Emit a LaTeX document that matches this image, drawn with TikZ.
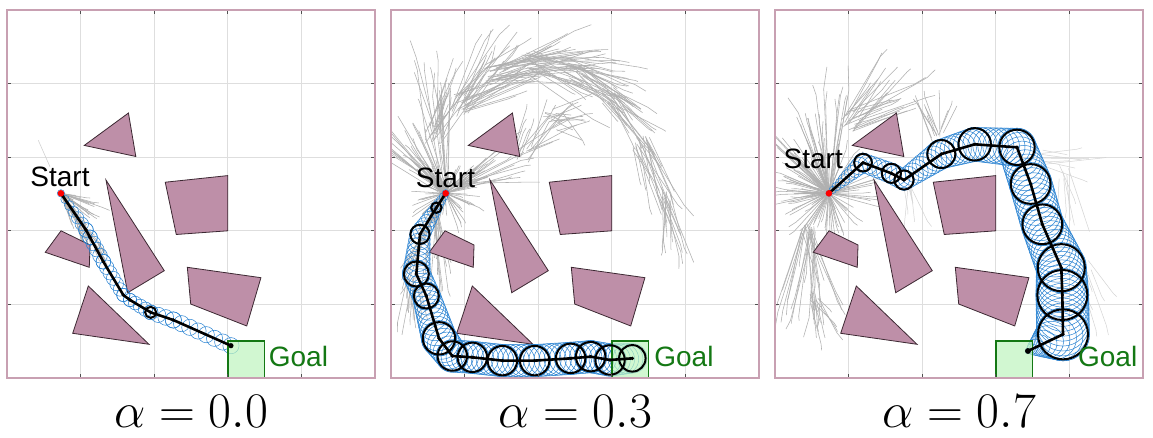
\documentclass[tikz,border=0pt]{standalone}
\usepackage{fontspec}
\newfontfamily\arial{Liberation Sans}
\definecolor{framec}{RGB}{200,160,178}
\definecolor{gridc}{RGB}{222,222,222}
\definecolor{tickc}{RGB}{80,80,80}
\definecolor{obsc}{RGB}{190,143,168}
\definecolor{obsedge}{RGB}{60,40,50}
\definecolor{treec}{RGB}{176,176,176}
\definecolor{sweepb}{RGB}{40,130,210}
\definecolor{goalc}{RGB}{20,120,20}
\definecolor{goalfill}{RGB}{190,245,190}
\tikzset{
 panelframe/.style={draw=framec, line width=0.8pt},
 gridl/.style={draw=gridc, line width=0.4pt},
 tickl/.style={draw=tickc, line width=0.6pt},
 obst/.style={fill=obsc, draw=obsedge, line width=0.4pt},
 tree/.style={draw=treec, line width=0.28pt},
 sweepc/.style={draw=sweepb, line width=0.25pt},
 robot/.style={draw=black, line width=1pt},
 pathl/.style={draw=black, line width=1.3pt, line join=round},
 wpt/.style={fill=black},
 startpt/.style={fill=red},
 goalbox/.style={fill=goalfill, fill opacity=0.7, draw=goalc, line width=0.8pt},
 startlbl/.style={font=\arial\fontsize{14}{16}\selectfont, inner sep=0pt, text=black},
 goallbl/.style={font=\arial\fontsize{14}{16}\selectfont, inner sep=0pt, text=goalc},
 alphalbl/.style={font=\fontsize{24}{28}\selectfont, inner sep=0pt, anchor=base},
}
% random fan: x y spread amin amax lmin lmax n
\newcommand\rfan[8]{%
  \foreach \k in {1,...,#8}{%
    \pgfmathsetmacro\rbx{#1+(rnd-0.5)*2*(#3)}%
    \pgfmathsetmacro\rby{#2+(rnd-0.5)*2*(#3)}%
    \pgfmathsetmacro\rfa{(#4)+rnd*((#5)-(#4))}%
    \pgfmathsetmacro\rfl{(#6)+rnd*((#7)-(#6))}%
    \pgfmathsetmacro\rfb{\rfa+(rnd-0.5)*30}%
    \pgfmathsetmacro\rflb{rnd*0.25*\rfl}%
    \draw[tree] (\rbx,\rby) -- ++(\rfa:\rfl) -- ++(\rfb:\rflb);
  }}
% sweep: x1 y1 r1 x2 y2 r2 n
\newcommand\sweepseg[7]{%
  \foreach \i in {0,...,#7}{%
    \pgfmathsetmacro\tq{\i/(#7)}%
    \draw[sweepc] ({#1+((#4)-(#1))*\tq},{#2+((#5)-(#2))*\tq}) circle ({#3+((#6)-(#3))*\tq});
  }}
\newcommand\panelbase{%
  \foreach \g in {1,...,4}{
    \draw[gridl] (\g,0) -- (\g,5);
    \draw[gridl] (0,\g) -- (5,\g);
  }
}
\newcommand\panelframe{%
  \foreach \g in {1,...,4}{
    \draw[tickl] (\g,0) -- (\g,0.05);
    \draw[tickl] (\g,5) -- (\g,4.95);
    \draw[tickl] (0,\g) -- (0.05,\g);
    \draw[tickl] (5,\g) -- (4.95,\g);
  }
  \draw[panelframe] (0,0) rectangle (5,5);
}
\newcommand\obstacles{%
  \draw[obst] (1.05,3.16) -- (1.65,3.60) -- (1.75,3.01) -- cycle;
  \draw[obst] (2.15,2.66) -- (3.0,2.75) -- (3.0,2.00) -- (2.30,1.95) -- cycle;
  \draw[obst] (1.345,2.69) -- (2.137,1.458) -- (1.64,1.159) -- cycle;
  \draw[obst] (0.52,1.708) -- (0.734,2.00) -- (1.128,1.807) -- (1.118,1.504) -- cycle;
  \draw[obst] (2.45,1.504) -- (3.45,1.363) -- (3.257,0.707) -- (2.496,1.005) -- cycle;
  \draw[obst] (1.105,1.25) -- (1.929,0.458) -- (0.893,0.607) -- cycle;
}
\begin{document}
\begin{tikzpicture}[x=0.5pt,y=-0.5pt]
\useasboundingbox[fill=white] (0,0) rectangle (1153,438);

% ================= Panel 1 =================
\begin{scope}[shift={(7,378)}, x=36.8pt, y=36.8pt]
  \pgfmathsetseed{11}
  \panelbase
  \begin{scope}
    \clip (0,0) rectangle (5,5);
    \rfan{0.733}{2.509}{0}{-72}{-8}{0.15}{0.6}{45}
    \rfan{1.0}{2.1}{0.05}{-75}{-45}{0.1}{0.45}{20}
    \rfan{1.2}{1.8}{0.05}{-70}{-50}{0.1}{0.35}{10}
    \draw[tree, draw=treec!60] (0.425,3.23) -- (0.584,2.87);
  \end{scope}
  \obstacles
  \coordinate (a0) at (0.733,2.509);
  \coordinate (a1) at (1.073,2.011);
  \coordinate (a2) at (1.128,1.911);
  \coordinate (a3) at (1.309,1.580);
  \coordinate (a4) at (1.580,1.128);
  \coordinate (a5) at (1.671,1.060);
  \coordinate (a6) at (1.952,0.892);
  \coordinate (a7) at (2.260,0.788);
  \coordinate (a8) at (3.043,0.439);
  \sweepseg{0.733}{2.509}{0.05}{1.073}{2.011}{0.1}{6}
  \sweepseg{1.073}{2.011}{0.1}{1.128}{1.911}{0.1}{1}
  \sweepseg{1.128}{1.911}{0.1}{1.309}{1.580}{0.1}{4}
  \sweepseg{1.309}{1.580}{0.1}{1.580}{1.128}{0.09}{6}
  \sweepseg{1.580}{1.128}{0.09}{1.671}{1.060}{0.09}{1}
  \sweepseg{1.671}{1.060}{0.09}{1.952}{0.892}{0.1}{4}
  \sweepseg{1.952}{0.892}{0.1}{2.260}{0.788}{0.11}{3}
  \sweepseg{2.260}{0.788}{0.11}{3.043}{0.439}{0.11}{7}
  \draw[goalbox] (3,0) rectangle (3.5,0.5);
  \draw[pathl] (a0) -- (a1) -- (a2) -- (a3) -- (a4) -- (a5) -- (a6) -- (a7) -- (a8);
  \draw[robot] (a6) circle (0.075);
  \foreach \p in {a1,a2,a3,a4,a5,a6,a7} \fill[wpt] (\p) circle (0.025);
  \fill[wpt] (a8) circle (0.035);
  \fill[startpt] (a0) circle (0.045);
  \panelframe
  \node[startlbl] (s1) at (0.72,2.73) {Start};
  \node[goallbl] (g1) at (3.96,0.29) {Goal};
\end{scope}

% ================= Panel 2 =================
\begin{scope}[shift={(391,378)}, x=36.8pt, y=36.8pt]
  \pgfmathsetseed{23}
  \panelbase
  \begin{scope}
    \clip (0,0) rectangle (5,5);
    \rfan{0.74}{2.51}{0}{0}{360}{0.15}{0.5}{70}
    \rfan{0.74}{2.51}{0.05}{85}{150}{0.5}{1.4}{35}
    \rfan{0.6}{3.3}{0.15}{50}{110}{0.4}{1.0}{25}
    \rfan{0.95}{3.7}{0.15}{15}{70}{0.5}{1.2}{30}
    \rfan{1.4}{4.1}{0.15}{-5}{30}{0.5}{1.3}{30}
    \rfan{1.9}{4.3}{0.15}{-35}{10}{0.5}{1.2}{25}
    \rfan{2.5}{4.2}{0.15}{-50}{-5}{0.4}{1.0}{25}
    \rfan{3.0}{3.8}{0.15}{-70}{-25}{0.3}{0.9}{20}
    \rfan{3.4}{3.2}{0.12}{-85}{-50}{0.4}{1.0}{20}
    \rfan{3.7}{2.5}{0.1}{-95}{-65}{0.3}{0.9}{15}
    \rfan{0.9}{2.6}{0.05}{0}{45}{0.3}{1.0}{20}
    \rfan{1.8}{3.0}{0.15}{20}{80}{0.3}{0.8}{15}
    \rfan{2.2}{3.5}{0.15}{-60}{40}{0.2}{0.6}{15}
    \rfan{0.6}{2.3}{0.05}{235}{285}{0.3}{1.2}{25}
    \rfan{0.3}{1.3}{0.1}{255}{290}{0.2}{0.7}{15}
  \end{scope}
  \obstacles
  \coordinate (b0) at (0.743,2.509);
  \coordinate (b1) at (0.616,2.314);
  \coordinate (b2) at (0.394,1.952);
  \coordinate (b3) at (0.344,1.413);
  \coordinate (b4) at (0.480,1.114);
  \coordinate (b5) at (0.652,0.539);
  \coordinate (b6) at (0.833,0.299);
  \coordinate (b7) at (1.105,0.281);
  \coordinate (b8) at (1.513,0.236);
  \coordinate (b9) at (1.952,0.236);
  \coordinate (b10) at (2.441,0.267);
  \coordinate (b11) at (2.713,0.290);
  \coordinate (b12) at (2.976,0.245);
  \coordinate (b13) at (3.279,0.267);
  \sweepseg{0.743}{2.509}{0.05}{0.616}{2.314}{0.08}{4}
  \sweepseg{0.616}{2.314}{0.08}{0.394}{1.952}{0.14}{7}
  \sweepseg{0.394}{1.952}{0.14}{0.344}{1.413}{0.19}{8}
  \sweepseg{0.344}{1.413}{0.19}{0.480}{1.114}{0.19}{5}
  \sweepseg{0.480}{1.114}{0.19}{0.652}{0.539}{0.24}{9}
  \sweepseg{0.652}{0.539}{0.24}{0.833}{0.299}{0.22}{5}
  \sweepseg{0.833}{0.299}{0.22}{1.105}{0.281}{0.22}{4}
  \sweepseg{1.105}{0.281}{0.22}{1.513}{0.236}{0.22}{6}
  \sweepseg{1.513}{0.236}{0.22}{1.952}{0.236}{0.22}{6}
  \sweepseg{1.952}{0.236}{0.22}{2.441}{0.267}{0.22}{7}
  \sweepseg{2.441}{0.267}{0.22}{2.713}{0.290}{0.22}{4}
  \sweepseg{2.713}{0.290}{0.22}{2.976}{0.245}{0.22}{4}
  \sweepseg{2.976}{0.245}{0.22}{3.279}{0.267}{0.2}{5}
  \draw[goalbox] (3,0) rectangle (3.5,0.5);
  \draw[pathl] (b0) -- (b1) -- (b2) -- (b3) -- (b4) -- (b5) -- (b6) -- (b7) -- (b8) -- (b9) -- (b10) -- (b11) -- (b12) -- (b13);
  \draw[robot] (b1) circle (0.07);
  \draw[robot] (b2) circle (0.13);
  \draw[robot] (b3) circle (0.17);
  \draw[robot] (b4) circle (0.17);
  \draw[robot] (b5) circle (0.22);
  \draw[robot] (b6) circle (0.2);
  \draw[robot] (b7) circle (0.2);
  \draw[robot] (b8) circle (0.2);
  \draw[robot] (b9) circle (0.2);
  \draw[robot] (b10) circle (0.2);
  \draw[robot] (b11) circle (0.2);
  \draw[robot] (b12) circle (0.2);
  \draw[robot] (b13) circle (0.18);
  \foreach \p in {b1,b2,b3,b4,b5,b6,b7,b8,b9,b10,b11,b12,b13} \fill[wpt] (\p) circle (0.025);
  \fill[startpt] (b0) circle (0.045);
  \panelframe
  \node[startlbl] (s2) at (0.74,2.72) {Start};
  \node[goallbl] (g2) at (3.98,0.29) {Goal};
\end{scope}

% ================= Panel 3 =================
\begin{scope}[shift={(775,378)}, x=36.8pt, y=36.8pt]
  \pgfmathsetseed{37}
  \panelbase
  \begin{scope}
    \clip (0,0) rectangle (5,5);
    \rfan{0.73}{2.51}{0}{0}{360}{0.2}{0.75}{90}
    \rfan{0.73}{2.51}{0.03}{75}{140}{0.6}{1.45}{30}
    \rfan{0.73}{2.51}{0.03}{150}{210}{0.4}{0.75}{15}
    \rfan{1.05}{3.5}{0.15}{15}{70}{0.4}{1.1}{25}
    \rfan{2.2}{3.3}{0.1}{60}{130}{0.2}{0.6}{12}
    \rfan{0.45}{2.0}{0.1}{250}{295}{0.4}{1.3}{25}
    \rfan{0.55}{1.1}{0.1}{260}{320}{0.2}{0.6}{12}
  \end{scope}
  \begin{scope}[treec/.style={}]
    \clip (0,0) rectangle (5,5);
    \tikzset{tree/.style={draw=treec!55, line width=0.25pt}}
    \rfan{3.6}{3.0}{0.1}{-20}{10}{0.3}{0.9}{8}
    \rfan{3.9}{2.8}{0.1}{-100}{-60}{0.3}{0.8}{6}
    \rfan{4.2}{1.5}{0.1}{-80}{-50}{0.3}{1.0}{6}
    \rfan{1.8}{2.6}{0.05}{-100}{-60}{0.2}{0.6}{6}
  \end{scope}
  \obstacles
  \coordinate (c0) at (0.733,2.509);
  \coordinate (c1) at (1.196,2.926);
  \coordinate (c2) at (1.581,2.781);
  \coordinate (c3) at (1.753,2.690);
  \coordinate (c4) at (2.260,3.043);
  \coordinate (c5) at (2.713,3.175);
  \coordinate (c6) at (3.288,3.134);
  \coordinate (c7) at (3.474,2.636);
  \coordinate (c8) at (3.632,2.088);
  \coordinate (c9) at (3.890,1.499);
  \coordinate (c10) at (3.904,1.128);
  \coordinate (c11) at (3.913,0.593);
  \coordinate (c12) at (3.437,0.367);
  \sweepseg{0.733}{2.509}{0.04}{1.196}{2.926}{0.13}{9}
  \sweepseg{1.196}{2.926}{0.13}{1.581}{2.781}{0.14}{6}
  \sweepseg{1.581}{2.781}{0.14}{1.753}{2.690}{0.14}{3}
  \sweepseg{1.753}{2.690}{0.14}{2.260}{3.043}{0.2}{9}
  \sweepseg{2.260}{3.043}{0.2}{2.713}{3.175}{0.23}{7}
  \sweepseg{2.713}{3.175}{0.23}{3.288}{3.134}{0.26}{8}
  \sweepseg{3.288}{3.134}{0.26}{3.474}{2.636}{0.29}{8}
  \sweepseg{3.474}{2.636}{0.29}{3.632}{2.088}{0.29}{8}
  \sweepseg{3.632}{2.088}{0.29}{3.890}{1.499}{0.34}{9}
  \sweepseg{3.890}{1.499}{0.34}{3.904}{1.128}{0.36}{6}
  \sweepseg{3.904}{1.128}{0.36}{3.913}{0.593}{0.36}{8}
  \sweepseg{3.913}{0.593}{0.36}{3.437}{0.367}{0.04}{9}
  \draw[goalbox] (3,0) rectangle (3.5,0.5);
  \draw[pathl] (c0) -- (c1) -- (c2) -- (c3) -- (c4) -- (c5) -- (c6) -- (c7) -- (c8) -- (c9) -- (c10) -- (c11) -- (c12);
  \draw[robot] (c1) circle (0.12);
  \draw[robot] (c2) circle (0.13);
  \draw[robot] (c3) circle (0.13);
  \draw[robot] (c4) circle (0.19);
  \draw[robot] (c5) circle (0.22);
  \draw[robot] (c6) circle (0.24);
  \draw[robot] (c7) circle (0.27);
  \draw[robot] (c8) circle (0.27);
  \draw[robot] (c9) circle (0.32);
  \draw[robot] (c10) circle (0.34);
  \draw[robot] (c11) circle (0.34);
  \foreach \p in {c1,c2,c3,c4,c5,c6,c7,c8,c9,c10,c11} \fill[wpt] (\p) circle (0.025);
  \fill[wpt] (c12) circle (0.04);
  \fill[startpt] (c0) circle (0.045);
  \panelframe
  \node[startlbl] (s3) at (0.52,2.98) {Start};
  \node[goallbl] (g3) at (4.52,0.29) {Goal};
\end{scope}

% ================= Labels =================
\node[alphalbl] (l1) at (191,428) {$\alpha = 0.0$};
\node[alphalbl] (l2) at (575,428) {$\alpha = 0.3$};
\node[alphalbl] (l3) at (959,428) {$\alpha = 0.7$};
\end{tikzpicture}
\end{document}
